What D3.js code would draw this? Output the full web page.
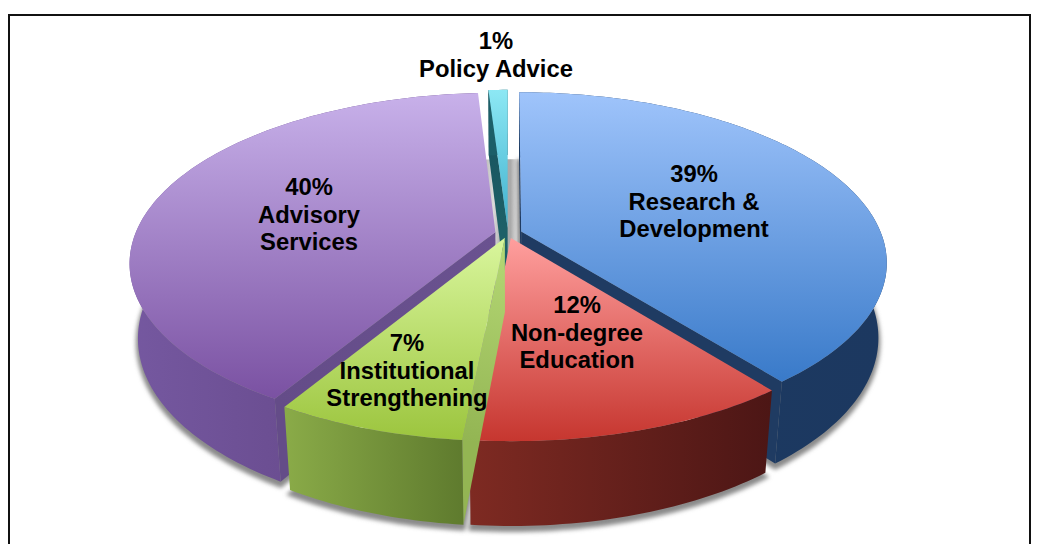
<!DOCTYPE html>
<html><head><meta charset="utf-8">
<script src="https://cdn.jsdelivr.net/npm/d3@7"></script>
<style>html,body{margin:0;padding:0;background:#fff;overflow:hidden}text{font-family:"Liberation Sans",Arial,sans-serif;font-weight:700;fill:#000}</style>
</head><body><svg id="c" width="1041" height="544"></svg>
<script>
// Data (clockwise from 12 o'clock)
const categories = ["Research & Development","Non-degree Education","Institutional Strengthening","Advisory Services","Policy Advice"];
const values = [39,12,7,40,1];
const labelLines = [["39%","Research &","Development"],["12%","Non-degree","Education"],["7%","Institutional","Strengthening"],["40%","Advisory","Services"],["1%","Policy Advice"]];
// Styling / layout
const topColors  = [["#9fc4fb","#397ac9"],["#ff9f9e","#c6362f"],["#d9f69d","#9cc53e"],["#c8b1ea","#7a51a2"],["#8de8f4","#3fb0cd"]];
const wallColors = [["#1c3b62","#1c3860"],["#7e2a22","#4c1615"],["#8aab48","#5f7b2e"],["#7558a0","#5e417f"],["#1c5f68","#1c5f68"]];
const sideColors = [["#1f3b62","#1f3b62"],["#c23a33","#8e2a26"],["#b6d976","#93b553"],["#6a5290","#644c88"],["#1d6068","#17505a"]];
const explode = [14,10,10,13,12];
const labelAnchors = [[694,182],[577,313],[407,351],[309,195],[496,49]];
const W=1041,H=544, R=360, h=85, cx=508, cy=233.5;
const sinT=0.458, cosT=Math.sqrt(1-sinT*sinT), f=1778;

const svg=d3.select("#c"), defs=svg.append("defs");
const project=(X,Y,Z)=>{const y2=Y*sinT-Z*cosT,d=Y*cosT+Z*sinT,s=f/(f-d);return [cx+X*s,cy+y2*s];};
const line=d3.line();
const pie=d3.pie().sort(null).value(d=>d)(values);

function grad(id,c,x1,y1,x2,y2){
  const g=defs.append("linearGradient").attr("id",id).attr("gradientUnits","userSpaceOnUse")
    .attr("x1",x1).attr("y1",y1).attr("x2",x2).attr("y2",y2);
  g.append("stop").attr("offset",0).attr("stop-color",c[0]);
  g.append("stop").attr("offset",1).attr("stop-color",c[1]);
  return `url(#${id})`;
}
defs.append("filter").attr("id","blur").attr("x","-10%").attr("y","-10%").attr("width","120%").attr("height","120%")
  .append("feGaussianBlur").attr("stdDeviation",2.2);

// frame
svg.append("rect").attr("x",9).attr("y",15).attr("width",1021).attr("height",560)
  .attr("fill","none").attr("stroke","#111").attr("stroke-width",2);

const slices=pie.map((p,i)=>{
  const mid=(p.startAngle+p.endAngle)/2, ox=explode[i]*Math.sin(mid), oy=-explode[i]*Math.cos(mid);
  const n=Math.max(4,Math.ceil((p.endAngle-p.startAngle)/0.02));
  const arc=d3.range(n+1).map(k=>{const a=p.startAngle+(p.endAngle-p.startAngle)*k/n;return [ox+R*Math.sin(a),oy-R*Math.cos(a)];});
  return {i,ox,oy,arc};
});
const ring=(pts,z)=>pts.map(q=>project(q[0],q[1],z));

// grey floor seen through the gap at the back
const gapG=defs.append("linearGradient").attr("id","gap").attr("gradientUnits","userSpaceOnUse").attr("x1",484).attr("x2",521).attr("y1",0).attr("y2",0);
[[0,"#b4b4b4"],[.25,"#dcdcdc"],[.5,"#a8a8a8"],[.72,"#aaaaaa"],[.88,"#dedede"],[1,"#b0b0b0"]].forEach(s=>gapG.append("stop").attr("offset",s[0]).attr("stop-color",s[1]));
const gapAngle=pie[4].startAngle, gapEnd=pie[0].startAngle+2*Math.PI+0.035;
const gapPts=d3.range(7).map(k=>{const a=gapAngle-0.01+(gapEnd-gapAngle+0.01)*k/6;return [R*Math.sin(a),-R*Math.cos(a)];});
svg.append("path").attr("d",line([[-30,-10],...gapPts,[14,-10]].map(q=>project(q[0],q[1],-h)))+"Z").attr("fill","url(#gap)");

// soft shadow under the walls
const shadow=svg.append("g").attr("filter","url(#blur)").attr("transform","translate(0,4)");
slices.forEach(s=>{
  if(s.i===4) return;
  shadow.append("path").attr("d",line([[s.ox,s.oy],...s.arc].map(q=>project(q[0],q[1],-h)))+"Z")
    .attr("fill","#8a8a8a").attr("stroke","#8a8a8a").attr("stroke-width",4);
});

// painter's order: back slices first
[3,0,4,1,2].forEach(i=>{
  const s=slices[i], g=svg.append("g").attr("class","slice").attr("data-name",categories[i]);
  const apex=[s.ox,s.oy], a0=s.arc[0], a1=s.arc[s.arc.length-1];
  const topPts=ring([apex,...s.arc],0);
  const bx=d3.extent(ring(s.arc,0),d=>d[0]), by=d3.extent(topPts,d=>d[1]);
  // visible radial faces (camera looks along the Y axis from the front)
  [[a0,+1],[a1,-1]].forEach(([e,sgn],k)=>{
    const nx=sgn*(e[1]-apex[1]), ny=-sgn*(e[0]-apex[0]);
    if(nx*(0-apex[0])+ny*(f-apex[1])<=0) return;
    const q=[project(apex[0],apex[1],0),project(e[0],e[1],0),project(e[0],e[1],-h),project(apex[0],apex[1],-h)];
    g.append("path").attr("d",line(q)+"Z").attr("fill",grad(`s${i}${k}`,sideColors[i],q[0][0],q[0][1],q[1][0],q[1][1]));
  });
  // outer wall
  const wall=[...ring(s.arc,0),...ring(s.arc,-h).reverse()];
  g.append("path").attr("d",line(wall)+"Z").attr("fill",grad(`w${i}`,wallColors[i],bx[0],0,bx[1],0));
  // top face
  g.append("path").attr("d",line(topPts)+"Z").attr("fill",grad(`t${i}`,topColors[i],0,by[0],0,by[1]));
});

// labels
const lh=27.5;
labelLines.forEach((ls,i)=>{
  const t=svg.append("text").attr("text-anchor","middle").attr("font-size",23.8);
  ls.forEach((l,k)=>t.append("tspan").attr("x",labelAnchors[i][0]).attr("y",labelAnchors[i][1]+k*lh).text(l));
});
</script></body></html>
